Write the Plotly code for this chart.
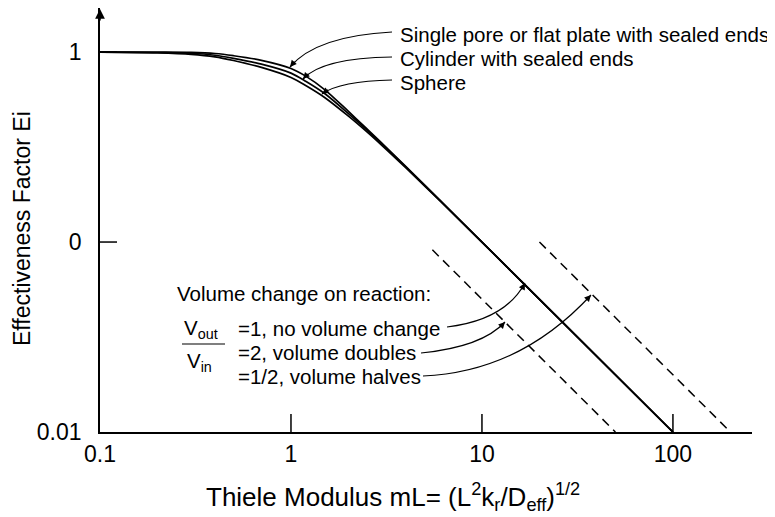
import math
import plotly.graph_objects as go

# ---- data ----
thiele_modulus = [0.1, 0.2, 0.3, 0.4, 0.5, 0.7, 1.0, 1.2, 1.5, 2.0, 2.5, 3.0, 4.0, 6.0, 10.0, 100.0]
flat_plate = [1.0, 0.999, 0.996, 0.983, 0.957, 0.905, 0.82, 0.745, 0.635, 0.487, 0.394, 0.331, 0.2495, 0.1666, 0.1, 0.01]
cylinder = [1.0, 0.995, 0.986, 0.962, 0.927, 0.864, 0.775, 0.70, 0.605, 0.474, 0.388, 0.327, 0.248, 0.1663, 0.1, 0.01]
sphere = [1.0, 0.99, 0.973, 0.944, 0.903, 0.83, 0.735, 0.665, 0.577, 0.46, 0.38, 0.322, 0.2455, 0.1655, 0.1, 0.01]

doubles_x = [5.5, 50.0]
doubles_y = [0.091, 0.01]
halves_x = [20.0, 200.0]
halves_y = [0.1, 0.01]

x_tickvals = [0.1, 1, 10, 100]
x_ticktext = ["0.1", "1", "10", "100"]
y_tickvals = [0.01, 0.1, 1]
y_ticktext = ["0.01", "0", "1"]

X_RANGE = [-1, 2.414]
Y_RANGE = [-2, 0.232]

FONT = "Liberation Sans, Arial, Helvetica, sans-serif"
W, H = 775, 517
# page body has an 8px margin; plot box in screen pixels: 100..752 x 8..432
BODY = 8
SX0, SX1, SY0, SY1 = 100, 752, 8, 432
L = SX0 - BODY
T = SY0 - BODY
R = W - (SX1 - BODY)
B = H - (SY1 - BODY)


def px(sx):
    return (sx - SX0) / (SX1 - SX0)


def py(sy):
    return (SY1 - sy) / (SY1 - SY0)


def xdata_paper(v):
    return (math.log10(v) - X_RANGE[0]) / (X_RANGE[1] - X_RANGE[0])


def ydata_paper(v):
    return (math.log10(v) - Y_RANGE[0]) / (Y_RANGE[1] - Y_RANGE[0])


fig = go.Figure()
for ys in (flat_plate, cylinder, sphere):
    fig.add_trace(go.Scatter(x=thiele_modulus, y=ys, mode="lines",
                             line=dict(color="black", width=1.7, shape="spline", smoothing=0.9),
                             showlegend=False, hoverinfo="skip"))
for xs, ys in ((doubles_x, doubles_y), (halves_x, halves_y)):
    fig.add_trace(go.Scatter(x=xs, y=ys, mode="lines",
                             line=dict(color="black", width=1.5, dash="9px,6px"),
                             showlegend=False, hoverinfo="skip"))

shapes = []
annotations = []

# tick marks (drawn inward)
for v in x_tickvals[1:]:
    xp = xdata_paper(v)
    shapes.append(dict(type="line", xref="paper", yref="paper", x0=xp, x1=xp,
                       y0=0, y1=18 / (SY1 - SY0), line=dict(color="black", width=1.5)))
for v in y_tickvals[1:]:
    yp = ydata_paper(v)
    shapes.append(dict(type="line", xref="paper", yref="paper", x0=0, x1=17 / (SX1 - SX0),
                       y0=yp, y1=yp, line=dict(color="black", width=1.5)))

# curved arrows: (start, control, tip) in screen pixels
arrows = [
    ((392, 32), (316, 36), (290, 67)),
    ((392, 57), (322, 58), (303, 79)),
    ((392, 80), (340, 81), (322, 94)),
    ((447, 327), (505, 320), (525, 283)),
    ((421, 353), (482, 347), (505, 322)),
    ((423, 376), (520, 372), (591, 295)),
]
for (x0, y0), (cx, cy), (x1, y1) in arrows:
    shapes.append(dict(type="path", xref="paper", yref="paper",
                       path=f"M {px(x0)},{py(y0)} Q {px(cx)},{py(cy)} {px(x1)},{py(y1)}",
                       line=dict(color="black", width=1.2)))
    dx, dy = cx - x1, cy - y1
    n = (dx * dx + dy * dy) ** 0.5
    annotations.append(dict(xref="paper", yref="paper", x=px(x1), y=py(y1), text="",
                            showarrow=True, arrowhead=2, arrowsize=1.1, arrowwidth=1.2,
                            arrowcolor="black", ax=dx / n * 9, ay=dy / n * 9))

# fraction bar
shapes.append(dict(type="line", xref="paper", yref="paper",
                   x0=px(182), x1=px(225), y0=py(344), y1=py(344),
                   line=dict(color="black", width=1.2)))

labels = [
    ("Single pore or flat plate with sealed ends", 398, 35, "left"),
    ("Cylinder with sealed ends", 398, 58, "left"),
    ("Sphere", 398, 82, "left"),
    ("Volume change on reaction:", 175, 293, "left"),
    ("=1, no volume change", 236, 328, "left"),
    ("=2, volume doubles", 236, 352, "left"),
    ("=1/2, volume halves", 236, 376, "left"),
    ("V<sub>out</sub>", 201, 329, "center"),
    ("V<sub>in</sub>", 199, 362, "center"),
]
for text, x, y, anchor in labels:
    annotations.append(dict(xref="paper", yref="paper", x=px(x), y=py(y), text=text,
                            showarrow=False, xanchor=anchor, yanchor="middle",
                            font=dict(family=FONT, size=20.5, color="black")))

# axis titles
annotations.append(dict(xref="paper", yref="paper", x=px(204), y=py(497),
                        text="Thiele Modulus mL= (L<sup>2</sup>k<sub>r</sub>/D<sub>eff</sub>)<sup>1/2</sup>",
                        showarrow=False, xanchor="left", yanchor="middle",
                        font=dict(family=FONT, size=26, color="black")))
annotations.append(dict(xref="paper", yref="paper", x=px(22), y=py(229),
                        text="Effectiveness Factor Ei", textangle=-90,
                        showarrow=False, xanchor="center", yanchor="middle",
                        font=dict(family=FONT, size=23, color="black")))

# arrow at top of y axis
annotations.append(dict(xref="paper", yref="paper", x=0, y=1, text="", showarrow=True,
                        arrowhead=2, arrowsize=1.3, arrowwidth=1.5, arrowcolor="black",
                        ax=0, ay=14))

fig.update_layout(
    width=W, height=H,
    margin=dict(l=L, r=R, t=T, b=B, pad=0),
    paper_bgcolor="white", plot_bgcolor="white",
    font=dict(family=FONT, color="black"),
    shapes=shapes, annotations=annotations,
    xaxis=dict(type="log", range=X_RANGE, tickvals=x_tickvals, ticktext=x_ticktext,
               ticks="", showline=True, linecolor="black", linewidth=1.8,
               showgrid=False, zeroline=False, tickfont=dict(size=23),
               ticklabelstandoff=0),
    yaxis=dict(type="log", range=Y_RANGE, tickvals=y_tickvals, ticktext=y_ticktext,
               ticks="", showline=True, linecolor="black", linewidth=1.8,
               showgrid=False, zeroline=False, tickfont=dict(size=23),
               ticklabelstandoff=12),
)

fig.write_html("out.html")
